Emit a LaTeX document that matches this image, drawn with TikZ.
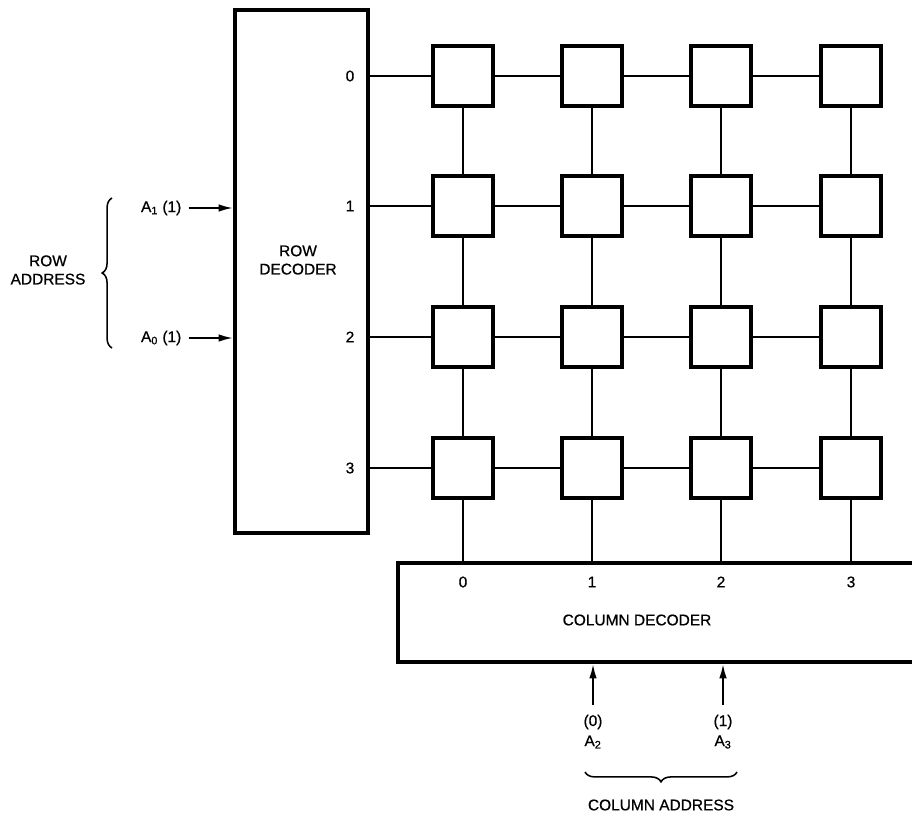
\documentclass[tikz,border=0pt]{standalone}
\usepackage{fontspec}
\setmainfont{Liberation Sans}[FakeBold=0.7]
\usetikzlibrary{arrows.meta,decorations.pathreplacing}

\begin{document}
\begin{tikzpicture}[
  x=0.025cm,
  y=-0.025cm,
  font=\fontsize{11}{13}\selectfont,
  >={Latex[length=3.6mm,width=1.9mm]},
  box/.style={draw, line width=2.8pt, inner sep=0pt},
  cell/.style={box, minimum size=1.5cm},
  wire/.style={line width=1.4pt},
  addrin/.style={->, line width=1.4pt},
  brc/.style={decorate, decoration={brace, amplitude=7pt}, line width=1.1pt},
  lbl/.style={inner sep=1pt, align=center}
]
\useasboundingbox (0,0) rectangle (912,819);

% decoders
\node[box, minimum width=3.325cm, minimum height=13.075cm] (rowdec) at (301.5,271.5) {};
\node[lbl] (rowtxt) at (298,260) {ROW\\DECODER};
\node[box, minimum width=13.3cm, minimum height=2.475cm] (coldec) at (664,612.5) {};
\node[lbl] (coltxt) at (637,620) {COLUMN DECODER};

% memory cells
\foreach \r/\y in {0/76,1/206,2/337,3/468}{
  \node[lbl] (rn\r) at (350,\y) {\r};
  \foreach \c/\x in {0/463,1/592,2/721,3/851}
    \node[cell] (m\r\c) at (\x,\y) {};
}
\foreach \c/\x in {0/463,1/592,2/721,3/851}
  \node[lbl] (cn\c) at (\x,582) {\c};

% word lines
\foreach \r in {0,...,3}{
  \draw[wire] (rowdec.east |- m\r0.west) -- (m\r0.west);
  \foreach \c/\d in {0/1,1/2,2/3}
    \draw[wire] (m\r\c.east) -- (m\r\d.west);
}
% bit lines
\foreach \c in {0,...,3}{
  \foreach \r/\s in {0/1,1/2,2/3}
    \draw[wire] (m\r\c.south) -- (m\s\c.north);
  \draw[wire] (m3\c.south) -- (m3\c.south |- coldec.north);
}

% row address
\node[lbl, anchor=east] (a1) at (183,208) {A\textsubscript{1} (1)};
\node[lbl, anchor=east] (a0) at (183,338) {A\textsubscript{0} (1)};
\draw[addrin, shorten <=4pt] (a1.east) -- (a1.east -| rowdec.west);
\draw[addrin, shorten <=4pt] (a0.east) -- (a0.east -| rowdec.west);
\draw[brc] (112,348) -- (112,198);
\node[lbl] (rowaddr) at (48,270) {ROW\\ADDRESS};

% column address
\coordinate (a2in) at (593,705);
\coordinate (a3in) at (723,705);
\draw[addrin] (a2in) -- (a2in |- coldec.south);
\draw[addrin] (a3in) -- (a3in |- coldec.south);
\node[lbl] (a2v) at (593,722) {(0)};
\node[lbl] (a3v) at (723,722) {(1)};
\node[lbl] (a2) at (593,742) {A\textsubscript{2}};
\node[lbl] (a3) at (723,742) {A\textsubscript{3}};
\draw[brc] (737,772) -- (585,772);
\node[lbl] (coladdr) at (661,805) {COLUMN ADDRESS};
\end{tikzpicture}
\end{document}
